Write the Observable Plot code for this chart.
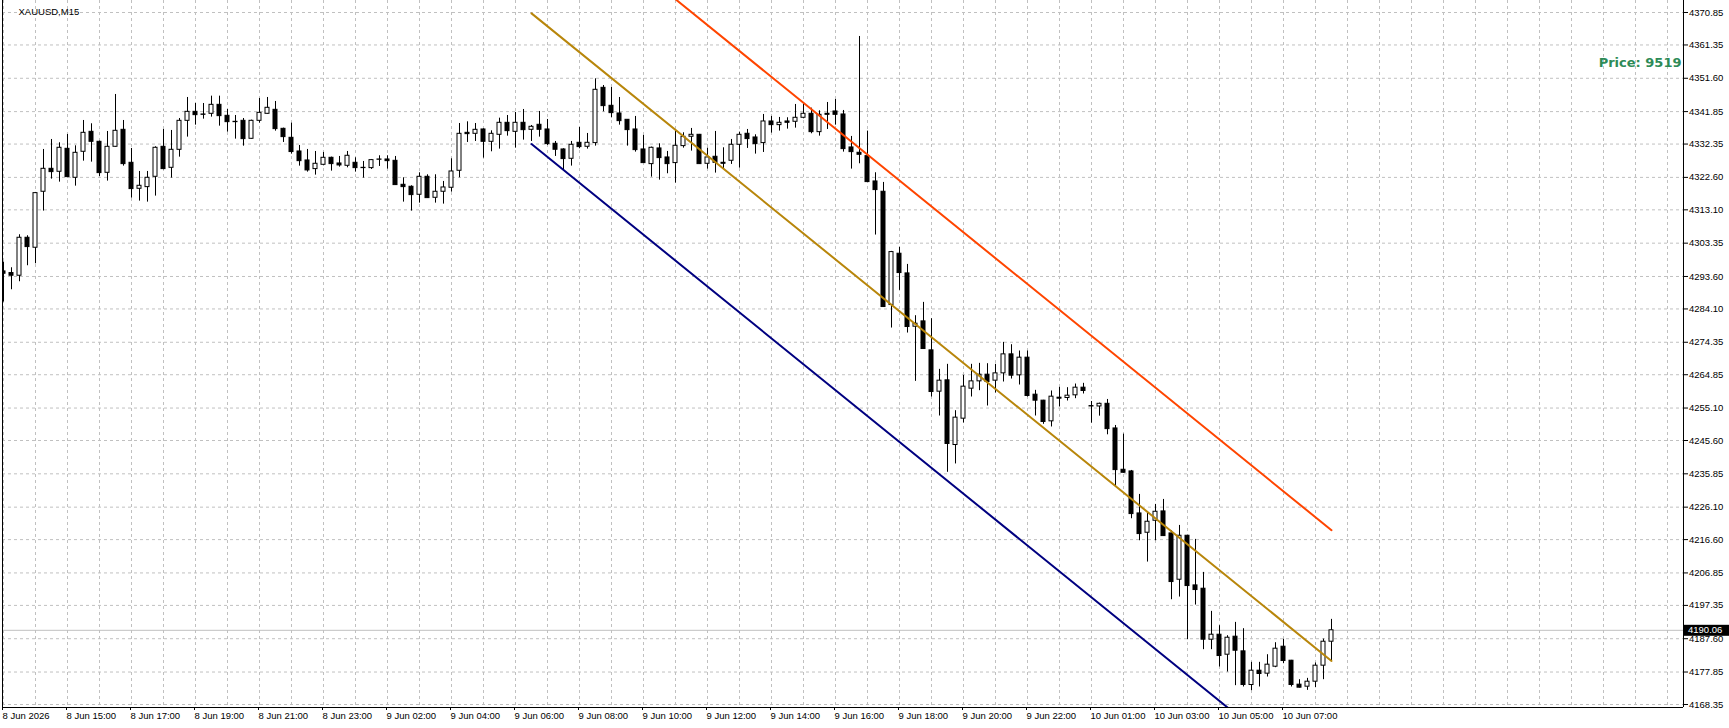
<!DOCTYPE html>
<html>
<head>
<meta charset="utf-8">
<script src="https://cdn.jsdelivr.net/npm/d3@7"></script>
<script src="https://cdn.jsdelivr.net/npm/@observablehq/plot@0.6"></script>
<style>
  html, body { margin: 0; padding: 0; background: #ffffff; overflow: hidden; }
  svg { display: block; }
</style>
</head>
<body>
<script>
// ---- Data (15-minute bars, index 0 = first visible bar) ----
const symbolLabel = "XAUUSD,M15";
const priceNote = "Price: 9519";
const lastPrice = 4190.06;

const opens = [4295.08,4294.60,4293.82,4304.93,4302.01,4318.39,4325.11,4324.24,4330.96,4322.48,
4330.09,4335.93,4333.01,4323.94,4331.55,4336.52,4326.87,4319.26,4319.75,4322.77,
4331.55,4325.40,4330.67,4339.15,4341.78,4341.01,4341.20,4343.83,4340.62,4338.86,
4339.15,4333.89,4339.15,4341.20,4342.37,4336.81,4334.18,4330.18,4327.55,4325.02,
4326.28,4328.33,4326.67,4325.99,4326.87,4325.40,4325.31,4327.75,4327.84,4327.45,
4320.43,4319.85,4317.51,4322.77,4316.63,4318.39,4319.56,4324.53,4335.64,4335.35,
4336.62,4333.01,4335.06,4338.57,4335.93,4338.57,4336.52,4337.99,4336.62,4332.43,
4330.77,4328.04,4332.72,4331.55,4332.63,4348.81,4343.55,4341.30,4339.45,4336.62,
4330.77,4326.48,4331.07,4328.43,4326.78,4331.75,4334.48,4335.06,4326.58,4328.63,
4326.87,4327.46,4332.14,4335.36,4334.28,4332.63,4338.96,4337.89,4338.96,4338.87,
4340.04,4341.21,4335.84,4341.21,4341.89,4341.01,4331.36,4329.80,4328.82,4321.41,
4318.39,4285.24,4300.26,4294.50,4278.90,4280.46,4271.98,4259.89,4263.21,4244.28,
4251.99,4260.77,4262.91,4264.86,4263.11,4265.25,4270.81,4264.67,4269.84,4259.01,
4257.26,4251.21,4258.13,4258.04,4258.82,4261.06,4255.66,4255.56,4256.34,4249.13,
4237.04,4236.55,4224.26,4218.61,4222.12,4224.85,4218.41,4204.86,4217.73,4203.20,
4202.23,4187.31,4188.77,4182.92,4188.19,4183.90,4174.05,4178.24,4177.37,4179.41,
4185.26,4181.16,4174.15,4173.56,4175.02,4179.71,4186.72];

const highs = [4297.81,4296.15,4305.81,4305.52,4318.19,4330.77,4333.69,4332.72,4335.15,4331.84,
4339.25,4338.28,4333.21,4336.03,4346.86,4339.25,4331.06,4324.33,4324.33,4331.55,
4336.62,4336.33,4339.83,4345.98,4344.22,4344.22,4346.37,4346.37,4342.47,4340.71,
4339.83,4339.35,4345.69,4345.98,4344.81,4337.01,4338.47,4331.94,4330.77,4330.18,
4329.89,4328.53,4328.72,4330.18,4328.33,4327.26,4327.84,4328.92,4328.92,4328.72,
4322.48,4320.14,4323.94,4323.36,4323.36,4321.41,4328.04,4338.37,4338.86,4338.37,
4336.81,4336.23,4339.93,4340.71,4341.59,4342.47,4337.79,4341.89,4339.55,4333.11,
4330.97,4333.11,4337.21,4335.45,4351.44,4349.49,4348.91,4345.98,4339.45,4340.43,
4334.87,4331.46,4332.43,4330.19,4336.04,4335.65,4336.92,4335.16,4331.16,4336.04,
4331.26,4333.70,4335.84,4336.62,4335.06,4341.01,4340.43,4340.14,4340.04,4343.94,
4344.03,4342.86,4342.08,4344.52,4345.40,4342.18,4334.58,4363.83,4336.14,4323.95,
4321.12,4300.94,4302.11,4297.13,4282.12,4286.02,4281.24,4266.42,4267.89,4254.33,
4264.67,4267.89,4268.18,4268.08,4267.89,4274.32,4273.64,4271.79,4271.79,4260.28,
4257.36,4260.09,4261.16,4261.06,4262.13,4262.33,4257.02,4256.54,4257.61,4250.00,
4247.47,4236.84,4229.82,4224.55,4226.90,4228.36,4219.19,4220.75,4217.83,4216.66,
4207.00,4195.60,4191.41,4188.48,4192.38,4190.53,4180.68,4180.68,4182.92,4186.43,
4187.41,4181.26,4175.61,4176.00,4180.49,4187.50,4193.26];

const lows = [4286.11,4289.72,4292.06,4296.74,4297.33,4312.73,4322.09,4321.21,4322.48,4320.04,
4327.35,4327.06,4322.87,4321.51,4331.45,4325.89,4316.53,4315.66,4315.36,4317.12,
4324.82,4322.38,4328.52,4334.38,4337.89,4339.64,4340.23,4337.59,4335.84,4333.79,
4331.74,4333.79,4338.47,4341.10,4336.13,4332.82,4329.40,4325.89,4324.14,4323.26,
4325.99,4324.43,4325.60,4325.40,4324.14,4322.38,4324.92,4325.80,4325.02,4320.24,
4315.36,4312.73,4315.07,4316.43,4315.07,4314.78,4318.29,4322.48,4332.82,4333.11,
4328.23,4330.09,4330.87,4334.67,4331.16,4333.50,4333.11,4334.38,4331.94,4328.73,
4324.83,4325.90,4330.97,4330.87,4331.75,4341.79,4340.03,4337.89,4331.75,4329.99,
4326.68,4322.68,4321.80,4323.66,4320.93,4331.16,4330.29,4326.39,4325.02,4323.85,
4325.02,4326.39,4325.31,4331.07,4329.41,4329.89,4335.55,4336.14,4336.72,4337.01,
4339.74,4335.36,4334.67,4336.62,4337.89,4329.99,4325.02,4326.58,4321.12,4305.72,
4284.56,4278.51,4289.53,4277.05,4262.91,4272.27,4258.33,4252.77,4236.30,4238.74,
4250.73,4258.33,4260.18,4255.70,4259.50,4262.72,4263.59,4261.84,4258.33,4252.77,
4250.34,4249.56,4255.41,4257.16,4257.84,4259.21,4250.68,4252.73,4247.27,4232.06,
4236.06,4222.70,4216.27,4210.03,4216.27,4217.53,4199.01,4199.79,4187.31,4197.45,
4184.39,4184.39,4179.32,4177.85,4173.86,4173.47,4172.40,4173.47,4176.39,4179.12,
4180.29,4173.47,4173.17,4172.49,4173.27,4175.61,4181.07];

const closes = [4294.40,4293.82,4304.93,4302.20,4317.99,4325.11,4324.14,4331.26,4322.68,4329.79,
4335.64,4333.01,4323.85,4331.55,4336.23,4326.48,4319.17,4320.14,4322.48,4331.26,
4325.02,4330.67,4339.15,4341.78,4340.81,4340.91,4343.83,4340.52,4338.76,4338.76,
4333.79,4339.15,4341.49,4342.96,4336.72,4334.38,4330.01,4327.35,4324.63,4326.58,
4328.33,4326.48,4326.09,4328.92,4325.31,4325.31,4327.65,4327.84,4327.35,4320.34,
4319.75,4317.41,4322.77,4316.53,4318.39,4319.65,4324.33,4335.35,4335.25,4336.52,
4333.01,4335.35,4338.57,4336.13,4338.57,4336.42,4337.40,4336.53,4332.33,4330.68,
4327.95,4332.14,4331.46,4332.72,4348.23,4343.45,4341.40,4339.06,4336.43,4330.58,
4326.78,4331.26,4328.24,4326.48,4331.85,4334.48,4335.06,4326.48,4328.43,4326.87,
4326.58,4332.14,4335.06,4333.80,4332.33,4338.96,4337.89,4338.57,4338.57,4340.04,
4341.21,4335.84,4340.91,4340.91,4340.91,4330.87,4329.99,4329.21,4321.22,4318.88,
4284.66,4300.74,4294.60,4278.81,4279.78,4272.37,4259.79,4263.11,4244.59,4252.29,
4261.36,4262.91,4264.86,4262.72,4265.25,4270.81,4264.57,4269.84,4258.63,4257.26,
4251.02,4258.43,4257.84,4258.72,4261.06,4260.09,4255.56,4256.34,4248.93,4236.94,
4236.16,4224.07,4218.22,4221.83,4224.75,4217.63,4204.18,4217.73,4203.01,4201.84,
4187.31,4188.77,4182.53,4187.89,4184.09,4174.05,4178.24,4177.27,4180.00,4184.68,
4181.07,4174.05,4173.27,4175.02,4179.71,4186.72,4190.06];

// Time-axis labels, one every 8 bars (2 hours)
const xTickLabels = ["8 Jun 2026","8 Jun 15:00","8 Jun 17:00","8 Jun 19:00","8 Jun 21:00",
"8 Jun 23:00","9 Jun 02:00","9 Jun 04:00","9 Jun 06:00","9 Jun 08:00","9 Jun 10:00",
"9 Jun 12:00","9 Jun 14:00","9 Jun 16:00","9 Jun 18:00","9 Jun 20:00","9 Jun 22:00",
"10 Jun 01:00","10 Jun 03:00","10 Jun 05:00","10 Jun 07:00"];

// Price-axis labels
const yTicks = [4370.85,4361.35,4351.60,4341.85,4332.35,4322.60,4313.10,4303.35,4293.60,
4284.10,4274.35,4264.85,4255.10,4245.60,4235.85,4226.10,4216.60,4206.85,4197.35,
4187.60,4177.85,4168.35];

// Regression channel: middle line endpoints (bar index, price) and half-width
const channelBars = [66, 166];
const channelMid = [4370.59, 4181.10];
const channelHalfWidth = 38.25;

// Visible window of the chart
const xDomain = [-0.125, 210];
const yDomain = [4167.47, 4374.36];

// ---- Build tables ----
const bars = opens.map((o, i) => ({i, o, h: highs[i], l: lows[i], c: closes[i]}));
const xTickIdx = xTickLabels.map((_, k) => k * 8);
const midLine = channelBars.map((b, k) => ({i: b, p: channelMid[k]}));
const upLine = midLine.map(d => ({i: d.i, p: d.p + channelHalfWidth}));
const lowLine = midLine.map(d => ({i: d.i, p: d.p - channelHalfWidth}));

const gridStyle = {stroke: "#c0c0c0", strokeOpacity: 1, strokeDasharray: "3,3"};

const chart = Plot.plot({
  width: 1729,
  height: 728,
  marginLeft: 2,
  marginRight: 46,
  marginTop: 0,
  marginBottom: 21,
  x: {domain: xDomain, label: null},
  y: {domain: yDomain, label: null},
  style: {background: "#ffffff", color: "#000000",
          fontFamily: "'Liberation Sans', Arial, sans-serif", fontSize: "9.5px"},
  marks: [
    Plot.gridY(yTicks, gridStyle),
    Plot.gridX(d3.range(0, 211, 4), gridStyle),
    Plot.ruleY([lastPrice], {stroke: "#c0c0c0", strokeWidth: 1}),
    Plot.ruleX(bars, {x: "i", y1: "l", y2: "h", stroke: "#000000", strokeWidth: 1, clip: true}),
    Plot.rect(bars, {
      x1: d => d.i - 0.25, x2: d => d.i + 0.25, y1: "o", y2: "c",
      fill: d => d.c >= d.o ? "#ffffff" : "#000000",
      stroke: "#000000", strokeWidth: 1, clip: true
    }),
    Plot.line(upLine, {x: "i", y: "p", stroke: "#ff4500", strokeWidth: 2, clip: true}),
    Plot.line(midLine, {x: "i", y: "p", stroke: "#b8860b", strokeWidth: 2, clip: true}),
    Plot.line(lowLine, {x: "i", y: "p", stroke: "#000080", strokeWidth: 2, clip: true}),
    Plot.ruleX(xDomain, {stroke: "#000000", strokeWidth: 1}),
    Plot.ruleY([yDomain[0]], {stroke: "#000000", strokeWidth: 1}),
    Plot.axisY(yTicks, {anchor: "right", tickFormat: d => d.toFixed(2), tickSize: 4,
      tickPadding: 1.5, label: null, fill: "#000000", stroke: "#000000"}),
    Plot.axisX(xTickIdx, {anchor: "bottom", tickFormat: d => xTickLabels[Math.round(d / 8)],
      textAnchor: "start", dx: -1, tickSize: 3, tickPadding: 2, label: null,
      fill: "#000000", stroke: "#000000"}),
    Plot.text([symbolLabel], {frameAnchor: "top-left", dx: 16, dy: 11, textAnchor: "start",
      lineAnchor: "middle", fill: "#000000", fontSize: 9.5}),
    Plot.text([priceNote], {frameAnchor: "top-right", dx: -2, dy: 62, textAnchor: "end",
      lineAnchor: "middle", fill: "#2e8b57", fontSize: 13, fontWeight: "bold",
      fontFamily: "'DejaVu Sans', sans-serif"})
  ]
});

document.body.appendChild(chart);

// Current-price tag on the price axis, placed through the chart's y scale
const svg = d3.select(chart);
const yPix = chart.scale("y").apply(lastPrice);
const tag = svg.append("g");
tag.append("rect")
  .attr("x", 1684).attr("y", yPix - 5).attr("width", 45).attr("height", 11)
  .attr("fill", "#000000");
tag.append("text")
  .attr("x", 1688).attr("y", yPix + 0.5).attr("dy", "0.32em")
  .attr("text-anchor", "start")
  .attr("fill", "#ffffff")
  .attr("font-family", "'Liberation Sans', Arial, sans-serif")
  .attr("font-size", "9.5px")
  .text(lastPrice.toFixed(2));
</script>
</body>
</html>
